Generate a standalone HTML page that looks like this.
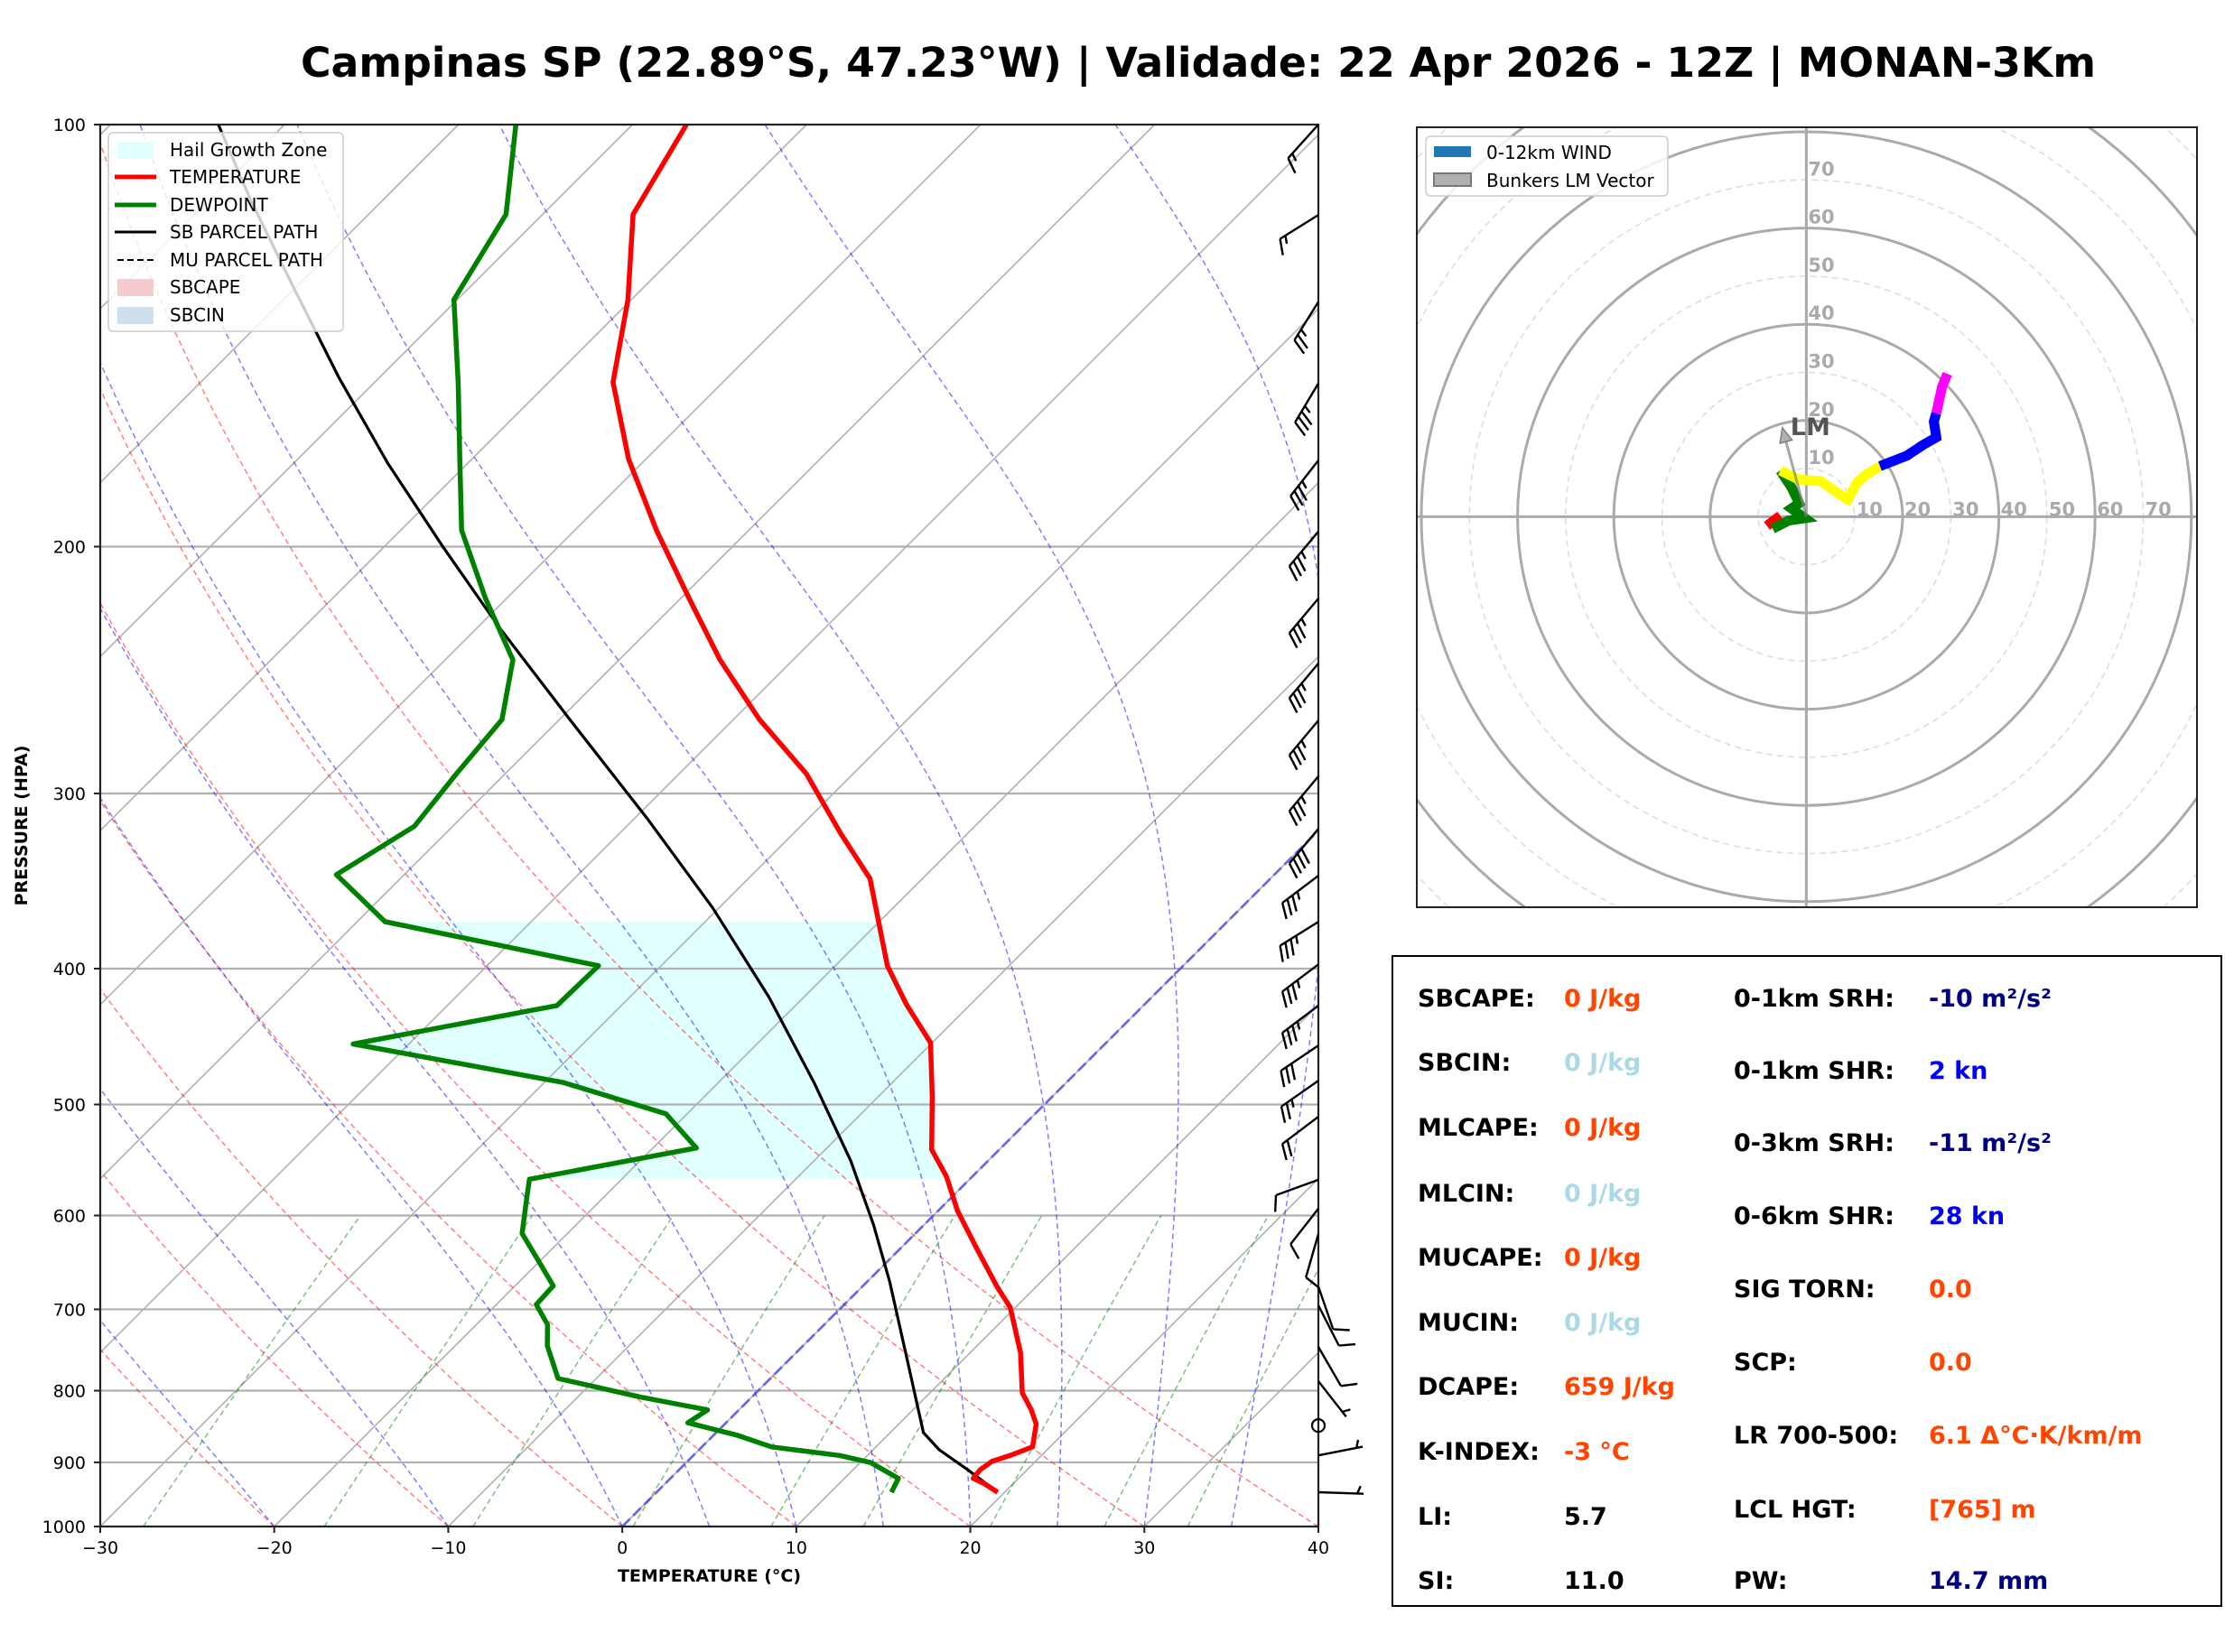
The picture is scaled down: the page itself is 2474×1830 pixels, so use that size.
<!DOCTYPE html>
<html><head><meta charset="utf-8"><title>Campinas SP Skew-T</title>
<style>
html,body{margin:0;padding:0;background:#fff;}
svg{display:block;font-family:"DejaVu Sans","Liberation Sans",sans-serif;}
</style></head>
<body>
<svg id="chart" width="2474" height="1830" viewBox="0 0 2474 1830" xmlns="http://www.w3.org/2000/svg">
<defs>
<clipPath id="skc"><rect x="111" y="138" width="1349" height="1553"/></clipPath>
<clipPath id="hoc"><rect x="1569" y="141" width="864" height="864"/></clipPath>
</defs>
<rect x="0" y="0" width="2474" height="1830" fill="#fff"/>
<text x="333" y="85" font-size="45" font-weight="bold" textLength="1988" lengthAdjust="spacingAndGlyphs">Campinas SP (22.89°S, 47.23°W) | Validade: 22 Apr 2026 - 12Z | MONAN-3Km</text>
<g id="skewt">
<g id="sk-clip" clip-path="url(#skc)"></g>
<g id="sk-axes"></g>
</g>
<g id="barbs"></g>
<g id="legend">
<rect x="120" y="147" width="260" height="220" rx="5" fill="#fff" fill-opacity="0.8" stroke="#ccc" stroke-width="1.5"/>
<rect x="130" y="157" width="40" height="19" fill="#e0ffff"/>
<text x="188" y="173" font-size="20">Hail Growth Zone</text>
<line x1="127" y1="196" x2="173" y2="196" stroke="red" stroke-width="5"/>
<text x="188" y="203" font-size="20">TEMPERATURE</text>
<line x1="127" y1="227" x2="173" y2="227" stroke="green" stroke-width="5"/>
<text x="188" y="234" font-size="20">DEWPOINT</text>
<line x1="127" y1="257" x2="173" y2="257" stroke="#000" stroke-width="3"/>
<text x="188" y="264" font-size="20">SB PARCEL PATH</text>
<line x1="130" y1="288" x2="173" y2="288" stroke="#000" stroke-width="2" stroke-dasharray="7,4"/>
<text x="188" y="295" font-size="20">MU PARCEL PATH</text>
<rect x="130" y="309" width="40" height="19" fill="#f4cccf"/>
<text x="188" y="325" font-size="20">SBCAPE</text>
<rect x="130" y="340" width="40" height="19" fill="#cfe0ec"/>
<text x="188" y="356" font-size="20">SBCIN</text>
</g>
<g id="hodo">
<g id="ho-clip" clip-path="url(#hoc)"></g>
<rect x="1569" y="141" width="864" height="864" fill="none" stroke="#222" stroke-width="2"/>
<g>
<rect x="1579" y="151" width="268" height="66" rx="5" fill="#fff" fill-opacity="0.85" stroke="#ccc" stroke-width="1.5"/>
<rect x="1588" y="162" width="41" height="12" fill="#1f77b4"/>
<text x="1646" y="176" font-size="20">0-12km WIND</text>
<rect x="1588" y="192" width="41" height="14" fill="#b0b0b0" stroke="#777" stroke-width="2"/>
<text x="1646" y="207" font-size="20">Bunkers LM Vector</text>
</g>
</g>
<g id="table">
<rect x="1542" y="1059" width="918" height="720" fill="#fff" stroke="#000" stroke-width="2"/>
<g font-size="27" font-weight="bold">
<text x="1570" y="1115">SBCAPE:</text>
<text x="1732" y="1115" fill="#ff4500">0 J/kg</text>
<text x="1570" y="1186">SBCIN:</text>
<text x="1732" y="1186" fill="#add8e6">0 J/kg</text>
<text x="1570" y="1258">MLCAPE:</text>
<text x="1732" y="1258" fill="#ff4500">0 J/kg</text>
<text x="1570" y="1331">MLCIN:</text>
<text x="1732" y="1331" fill="#add8e6">0 J/kg</text>
<text x="1570" y="1402">MUCAPE:</text>
<text x="1732" y="1402" fill="#ff4500">0 J/kg</text>
<text x="1570" y="1474">MUCIN:</text>
<text x="1732" y="1474" fill="#add8e6">0 J/kg</text>
<text x="1570" y="1545">DCAPE:</text>
<text x="1732" y="1545" fill="#ff4500">659 J/kg</text>
<text x="1570" y="1617">K-INDEX:</text>
<text x="1732" y="1617" fill="#ff4500">-3 °C</text>
<text x="1570" y="1689">LI:</text>
<text x="1732" y="1689">5.7</text>
<text x="1570" y="1760">SI:</text>
<text x="1732" y="1760">11.0</text>
<text x="1920" y="1115">0-1km SRH:</text>
<text x="2136" y="1115" fill="#000080">-10 m²/s²</text>
<text x="1920" y="1195">0-1km SHR:</text>
<text x="2136" y="1195" fill="#0000ff">2 kn</text>
<text x="1920" y="1275">0-3km SRH:</text>
<text x="2136" y="1275" fill="#000080">-11 m²/s²</text>
<text x="1920" y="1356">0-6km SHR:</text>
<text x="2136" y="1356" fill="#0000ff">28 kn</text>
<text x="1920" y="1437">SIG TORN:</text>
<text x="2136" y="1437" fill="#ff4500">0.0</text>
<text x="1920" y="1518">SCP:</text>
<text x="2136" y="1518" fill="#ff4500">0.0</text>
<text x="1920" y="1599">LR 700-500:</text>
<text x="2136" y="1599" fill="#ff4500">6.1 Δ°C·K/km/m</text>
<text x="1920" y="1681">LCL HGT:</text>
<text x="2136" y="1681" fill="#ff4500">[765] m</text>
<text x="1920" y="1760">PW:</text>
<text x="2136" y="1760" fill="#000080">14.7 mm</text>
</g>
</g>
</svg>
<script>
// ===== Sounding data =====
const tempP = [100,115.9,133.3,152.7,173.2,194.7,217.8,240.9,265.7,290.4,320.3,345.1,398.1,424.1,451.7,493.6,538.3,562.7,595.2,632.4,675.1,697.8,751.8,802.9,825.7,845.2,877.4,889.9,898.4,911.1,924.0,932.6,945.3];
const tempT = [-76.9,-74.8,-70.2,-66.3,-61.0,-55.3,-49.5,-44.2,-38.5,-32.7,-27.3,-23.0,-17.0,-13.7,-10.1,-6.9,-3.9,-1.5,1.1,4.3,7.8,9.7,12.9,15.3,16.8,17.9,19.0,18.2,17.5,17.3,17.4,18.4,19.6];
const dewP = [100,115.9,133.3,152.7,173.2,194.7,217.8,240.9,265.7,290.4,316.6,342.8,370.3,398.1,425.0,452.7,482.3,507.8,537.0,565.3,588.3,618.0,647.4,673.5,694.5,717.7,743.1,784.2,808.5,825.7,843.3,861.0,877.4,889.9,900.4,924.0,945.3];
const dewT = [-86.7,-82.1,-80.2,-75.2,-70.7,-66.5,-61.2,-56.1,-53.3,-52.8,-52.2,-53.9,-48.4,-33.6,-33.7,-43.2,-28.9,-21.2,-17.5,-25.3,-24.1,-22.6,-20.0,-17.8,-17.7,-15.9,-14.7,-12.2,-6.4,-1.8,-2.2,1.4,4.0,8.4,10.6,13.1,13.5];
const parcelP = [100,113.2,130.2,151.6,174.4,199.8,228.2,265.7,312.9,361.8,419.2,482.3,548.4,609.3,669.0,769.6,857.0,881.6,911.1,945.3];
const parcelT = [-103.8,-97.6,-90.3,-82.3,-74.6,-66.7,-58.8,-49.4,-39.2,-30.4,-22.0,-14.5,-7.9,-2.9,1.3,7.3,11.9,13.8,16.6,19.6];
const hailTopP = 370.3;
const hailBotP = 565.3;
// wind barbs: pressure (hPa), speed (kt), direction (deg, from)
const barbP = [100,116,133.8,153,173.6,195.1,217.8,242.3,266.1,291.7,317.9,343.4,370.4,397.2,425.1,453.8,480.8,510.2,565.8,593.3,618.5,674.2,695.5,744.5,787.7,847.2,889.7,945.2];
const barbSpd = [15,15,25,35,35,35,35,35,35,35,40,35,35,35,35,30,25,20,10,10,10,10,10,10,5,0,5,5];
const barbDir = [222,238,212,211,218,220,220,220,220,220,220,233,238,233,233,236,235,233,250,218,196,161,153,150,142,0,79,92];
// hodograph (kt)
const hodoBands = ['0-1km','1-3km','3-6km','6-9km','9-12km'];
const hodoU_red = [-8.2,-5.4];
const hodoV_red = [-1.9,0.2];
const hodoU_green = [-7.0,-3.7,-0.3,-3.1,-1.5,-3.1,-5.4];
const hodoV_green = [-2.5,-0.8,-0.3,1.7,2.8,6.1,9.6];
const hodoU_yellow = [-5.4,-1.5,3.0,6.4,8.6,10.6,12.5,15.3];
const hodoV_yellow = [9.6,7.7,7.4,5.0,3.6,7.2,8.8,10.5];
const hodoU_blue = [15.3,20.9,24.2,27.0,26.5,27.0];
const hodoV_blue = [10.5,12.7,14.9,16.5,19.8,21.5];
const hodoU_mag = [27.0,28.2,29.3];
const hodoV_mag = [21.5,27.0,29.7];
const bunkersU = [-5.0];
const bunkersV = [18.5];
const pTicks = [100,200,300,400,500,600,700,800,900,1000];
const tTicks = [-30,-20,-10,0,10,20,30,40];
const hodoRingLabels = [10,20,30,40,50,60,70];

// ===== Axes functions =====
const LEFT=111, RIGHT=1460, TOP=138, BOT=1691;
const PXT=(RIGHT-LEFT)/70;
function Y(p){return TOP+(BOT-TOP)*Math.log10(p/100);}
function X(T,p){return LEFT+(T+30)*PXT+(BOT-Y(p));}
const HCX=2000.4, HCY=572.4, HK=5.33;
function HX(u){return HCX+u*HK;}
function HY(v){return HCY-v*HK;}

const NS='http://www.w3.org/2000/svg';
function mk(tag,attrs,parent){const e=document.createElementNS(NS,tag);for(const k in attrs)e.setAttribute(k,attrs[k]);parent.appendChild(e);return e;}
const gc=document.getElementById('sk-clip');
const ga=document.getElementById('sk-axes');
const gb=document.getElementById('barbs');
const gh=document.getElementById('ho-clip');
function pts(a){return a.map(q=>q[0].toFixed(1)+','+q[1].toFixed(1)).join(' ');}

// Hail growth zone (between dewpoint and temperature)
function interp(P,T,p){for(let i=0;i<P.length-1;i++){if(p>=P[i]&&p<=P[i+1]){const f=(p-P[i])/(P[i+1]-P[i]);return T[i]+f*(T[i+1]-T[i]);}}return T[T.length-1];}
{
 const A=[];
 A.push([X(interp(tempP,tempT,hailTopP),hailTopP),Y(hailTopP)]);
 tempP.forEach((p,i)=>{if(p>hailTopP&&p<hailBotP)A.push([X(tempT[i],p),Y(p)]);});
 A.push([X(interp(tempP,tempT,hailBotP),hailBotP),Y(hailBotP)]);
 A.push([X(interp(dewP,dewT,hailBotP),hailBotP),Y(hailBotP)]);
 for(let i=dewP.length-1;i>=0;i--){const p=dewP[i];if(p>hailTopP&&p<hailBotP)A.push([X(dewT[i],p),Y(p)]);}
 A.push([X(interp(dewP,dewT,hailTopP),hailTopP),Y(hailTopP)]);
 const e=mk('polygon',{points:pts(A),fill:'#e0ffff'},gc);
 
 
}

// Horizontal pressure gridlines
pTicks.forEach(p=>{
 const e=mk('line',{x1:LEFT,x2:RIGHT,y1:Y(p),y2:Y(p),stroke:'#b0b0b0','stroke-width':2.2},gc);
 
 
});
// Skewed isotherms
for(let t=-130;t<=40;t+=10){
 const e=mk('line',{x1:X(t,1000),y1:Y(1000),x2:X(t,100),y2:Y(100),stroke:'#b0b0b0','stroke-width':1.6},gc);
 
 
}
// Dry adiabats
for(let t0=-30;t0<=40;t0+=10){
 const A=[];for(let p=1000;p>=100;p-=10){const T=(t0+273.15)*Math.pow(p/1000,0.2857)-273.15;A.push([X(T,p),Y(p)]);}
 const e=mk('polyline',{points:pts(A),fill:'none',stroke:'#ff0000','stroke-opacity':0.5,'stroke-width':1.5,'stroke-dasharray':'6,4'},gc);
 
 
}
// Moist adiabats
function es(Tc){return 6.112*Math.exp(17.67*Tc/(Tc+243.5));}
function dTdp(T,p){const Tc=T-273.15;const e=es(Tc);const rs=0.622*e/(p-e);const Rd=287.04,Lv=2.501e6,Cp=1005.7;return (1/p)*(Rd*T+Lv*rs)/(Cp+Lv*Lv*rs*0.622/(Rd*T*T));}
[-50,-40,-30,-20,-10,0,5,10,15,20,25,30,35,40].forEach(t0=>{
 let T=t0+273.15;const A=[[X(t0,1000),Y(1000)]];
 for(let p=1000;p>100;p-=5){const dp=-5;const k1=dTdp(T,p);const k2=dTdp(T+k1*dp/2,p+dp/2);T+=k2*dp;A.push([X(T-273.15,p+dp),Y(p+dp)]);}
 const e=mk('polyline',{points:pts(A),fill:'none',stroke:'#0000ff','stroke-opacity':0.5,'stroke-width':1.5,'stroke-dasharray':'6,4'},gc);
 
 
});
// Mixing ratio lines
[0.0004,0.001,0.002,0.004,0.007,0.01,0.016,0.024,0.032].forEach(w=>{
 const A=[];for(let p=1000;p>=600;p-=10){const e=p*w/(0.622+w);const l=Math.log(e/6.112);const Td=243.5*l/(17.67-l);A.push([X(Td,p),Y(p)]);}
 const e=mk('polyline',{points:pts(A),fill:'none',stroke:'#008000','stroke-opacity':0.5,'stroke-width':1.5,'stroke-dasharray':'6,4'},gc);
 
 
});
// 0C isotherm
{
 const e=mk('line',{x1:X(0,1000),y1:Y(1000),x2:X(0,100),y2:Y(100),stroke:'#0000ff','stroke-opacity':0.45,'stroke-width':3,'stroke-dasharray':'12,5'},gc);
 
 
}
// Profiles
{
 const e=mk('polyline',{points:pts(parcelP.map((p,i)=>[X(parcelT[i],p),Y(p)])),fill:'none',stroke:'#000','stroke-width':3.2,'stroke-linejoin':'round'},gc);
 
 
}
{
 const e=mk('polyline',{points:pts(dewP.map((p,i)=>[X(dewT[i],p),Y(p)])),fill:'none',stroke:'#008000','stroke-width':5.5,'stroke-linejoin':'round'},gc);
 
 
}
{
 const e=mk('polyline',{points:pts(tempP.map((p,i)=>[X(tempT[i],p),Y(p)])),fill:'none',stroke:'#ff0000','stroke-width':5.5,'stroke-linejoin':'round'},gc);
 
 
}
// Frame
{
 const e=mk('rect',{x:LEFT,y:TOP,width:RIGHT-LEFT,height:BOT-TOP,fill:'none',stroke:'#222','stroke-width':2.2},ga);
 
 
}
// Ticks/labels
pTicks.forEach(p=>{
 const t=mk('line',{x1:LEFT-7,x2:LEFT,y1:Y(p),y2:Y(p),stroke:'#222','stroke-width':2},ga);
 
 
 const l=mk('text',{x:95,y:Y(p)+7,'font-size':19,'text-anchor':'end'},ga);
 l.textContent=String(p);
 
 
});
tTicks.forEach(t=>{
 const x=X(t,1000);
 const k=mk('line',{x1:x,x2:x,y1:BOT,y2:BOT+7,stroke:'#222','stroke-width':2},ga);
 
 
 const l=mk('text',{x:x,y:1721,'font-size':19,'text-anchor':'middle'},ga);
 l.textContent=(t<0?'\u2212'+Math.abs(t):String(t));
 
 
});
{
 const l=mk('text',{x:(LEFT+RIGHT)/2,y:1752,'font-size':19,'font-weight':'bold','text-anchor':'middle'},ga);
 l.textContent='TEMPERATURE (°C)';
 
 
 const m=mk('text',{x:0,y:0,'font-size':19,'font-weight':'bold','text-anchor':'middle',transform:'translate(30,'+((TOP+BOT)/2)+') rotate(-90)'},ga);
 m.textContent='PRESSURE (HPA)';
 
 
}
// Wind barbs
barbP.forEach((p,i)=>{
 const spd=barbSpd[i],bx=RIGHT,by=Y(p);
 if(spd<2.5){
  const c=mk('circle',{cx:bx,cy:by,r:7,fill:'none',stroke:'#000','stroke-width':2.2},gb);
  
  
  return;
 }
 const r=barbDir[i]*Math.PI/180;const dx=Math.sin(r),dy=-Math.cos(r);const L=50;
 const tx=bx+dx*L,ty=by+dy*L;const px=dy,py=-dx;
 let d='M'+bx+','+by.toFixed(1)+' L'+tx.toFixed(1)+','+ty.toFixed(1);
 let n=Math.floor(spd/10),half=(spd%10)>=5;let pos=0;
 if(n===0)pos=7;
 for(let k=0;k<n;k++){const sx=tx-dx*pos,sy=ty-dy*pos;d+=' M'+sx.toFixed(1)+','+sy.toFixed(1)+' l'+(px*17+dx*7).toFixed(1)+','+(py*17+dy*7).toFixed(1);pos+=7;}
 if(half){const sx=tx-dx*pos,sy=ty-dy*pos;d+=' M'+sx.toFixed(1)+','+sy.toFixed(1)+' l'+(px*8.5+dx*3.5).toFixed(1)+','+(py*8.5+dy*3.5).toFixed(1);}
 const e=mk('path',{d:d,fill:'none',stroke:'#000','stroke-width':2.4},gb);
 
 
});
// Hodograph background
for(let k=10;k<=120;k+=10){
 const solid=(k%20===0);
 const c=mk('circle',{cx:HCX,cy:HCY,r:k*HK,fill:'none',stroke:solid?'#aaaaaa':'#dddddd','stroke-width':solid?3:1.6,'stroke-dasharray':solid?'none':'7,5'},gh);
 
 
}
{
 const a=mk('line',{x1:1569,x2:2433,y1:HCY,y2:HCY,stroke:'#aaaaaa','stroke-width':3},gh);
 
 
 const b=mk('line',{x1:HCX,x2:HCX,y1:141,y2:1005,stroke:'#aaaaaa','stroke-width':3},gh);
 
 
}
hodoRingLabels.forEach(k=>{
 const a=mk('text',{x:HX(k)+2,y:HCY-1,'font-size':21,'font-weight':'bold',fill:'#aaaaaa'},gh);
 a.textContent=String(k);
 
 
 const b=mk('text',{x:HCX+2,y:HY(k)-5,'font-size':21,'font-weight':'bold',fill:'#aaaaaa'},gh);
 b.textContent=String(k);
 
 
});
// Hodograph trace
[[hodoU_red,hodoV_red,'#ff0000','hodo-segment-0-1km'],[hodoU_green,hodoV_green,'#008000','hodo-segment-1-3km'],[hodoU_yellow,hodoV_yellow,'#ffff00','hodo-segment-3-6km'],[hodoU_blue,hodoV_blue,'#0000ff','hodo-segment-6-9km'],[hodoU_mag,hodoV_mag,'#ff00ff','hodo-segment-9-12km']].forEach(s=>{
 const e=mk('polyline',{points:pts(s[0].map((u,i)=>[HX(u),HY(s[1][i])])),fill:'none',stroke:s[2],'stroke-width':11,'stroke-linejoin':'miter'},gh);
 
 
});
// Bunkers LM
{
 const ux=HX(bunkersU[0]),uy=HY(bunkersV[0]);const x0=HX(0),y0=HY(0);
 const ang=Math.atan2(uy-y0,ux-x0);const hl=16,hw=7;
 const bxp=ux-Math.cos(ang)*hl,byp=uy-Math.sin(ang)*hl;
 const e=mk('line',{x1:x0,y1:y0,x2:bxp,y2:byp,stroke:'#808080','stroke-opacity':0.7,'stroke-width':3},gh);
 
 
 const h=mk('polygon',{points:pts([[ux,uy],[bxp-Math.sin(ang)*hw,byp+Math.cos(ang)*hw],[bxp+Math.sin(ang)*hw,byp-Math.cos(ang)*hw]]),fill:'#b0b0b0',stroke:'#808080','stroke-width':1.5},gh);
 
 
 const t=mk('text',{x:ux+9,y:uy+8,'font-size':27,'font-weight':'bold',fill:'#555'},gh);
 t.textContent='LM';
 
 
}
</script>
</body></html>
